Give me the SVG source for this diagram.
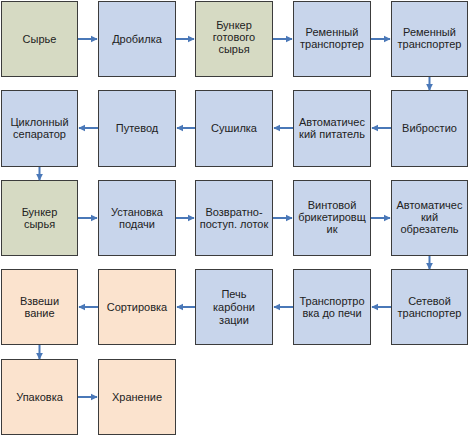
<svg xmlns="http://www.w3.org/2000/svg" width="469" height="436" viewBox="0 0 469 436">
<defs>
<style>
.b{stroke:#3c3c3c;stroke-width:1}
.g{fill:#D6DAC3}
.u{fill:#C8D5EB}
.p{fill:#FBE3CE}
text{font-family:"Liberation Sans",Arial,sans-serif;font-size:11px;fill:#222;text-anchor:middle}
.c line{stroke:#4A78B8;stroke-width:2;marker-end:url(#ah)}
</style>
<marker id="ah" viewBox="0 0 10 10" refX="9" refY="5" markerWidth="3.5" markerHeight="4" orient="auto" markerUnits="strokeWidth">
<path d="M0,0 L10,5 L0,10 Z" fill="#4A78B8"/>
</marker>
</defs>
<rect width="469" height="436" fill="#fff"/>
<g id="n1"><rect class="b g" x="1.5" y="1.5" width="76" height="75"/><text x="39.5" y="43">Сырье</text></g>
<g id="n2"><rect class="b u" x="98.5" y="1.5" width="77" height="75"/><text x="137" y="43">Дробилка</text></g>
<g id="n3"><rect class="b g" x="195.5" y="1.5" width="77" height="75"/><text x="234" y="29">Бункер</text><text x="234" y="41">готового</text><text x="234" y="53">сырья</text></g>
<g id="n4"><rect class="b u" x="293.5" y="1.5" width="77" height="75"/><text x="332" y="36">Ременный</text><text x="332" y="48">транспортер</text></g>
<g id="n5"><rect class="b u" x="391.5" y="1.5" width="76" height="75"/><text x="429.5" y="36">Ременный</text><text x="429.5" y="48">транспортер</text></g>

<g id="n6"><rect class="b u" x="391.5" y="90.5" width="76" height="76"/><text x="429.5" y="132">Вибростио</text></g>
<g id="n7"><rect class="b u" x="293.5" y="90.5" width="77" height="76"/><text x="332" y="126">Автоматичес</text><text x="332" y="138">кий питатель</text></g>
<g id="n8"><rect class="b u" x="195.5" y="90.5" width="77" height="76"/><text x="234" y="132">Сушилка</text></g>
<g id="n9"><rect class="b u" x="98.5" y="90.5" width="77" height="76"/><text x="137" y="132">Путевод</text></g>
<g id="n10"><rect class="b u" x="1.5" y="90.5" width="76" height="76"/><text x="39.5" y="126">Циклонный</text><text x="39.5" y="138">сепаратор</text></g>

<g id="n11"><rect class="b g" x="1.5" y="180.5" width="76" height="75"/><text x="39.5" y="216">Бункер</text><text x="39.5" y="228">сырья</text></g>
<g id="n12"><rect class="b u" x="98.5" y="180.5" width="77" height="75"/><text x="137" y="216">Установка</text><text x="137" y="228">подачи</text></g>
<g id="n13"><rect class="b u" x="195.5" y="180.5" width="77" height="75"/><text x="234" y="216">Возвратно-</text><text x="234" y="228">поступ. лоток</text></g>
<g id="n14"><rect class="b u" x="293.5" y="180.5" width="77" height="75"/><text x="332" y="209">Винтовой</text><text x="332" y="221">брикетировщ</text><text x="332" y="233">ик</text></g>
<g id="n15"><rect class="b u" x="391.5" y="180.5" width="76" height="75"/><text x="429.5" y="209">Автоматичес</text><text x="429.5" y="221">кий</text><text x="429.5" y="233">обрезатель</text></g>

<g id="n16"><rect class="b u" x="391.5" y="269.5" width="76" height="75"/><text x="429.5" y="305">Сетевой</text><text x="429.5" y="317">транспортер</text></g>
<g id="n17"><rect class="b u" x="293.5" y="269.5" width="77" height="75"/><text x="332" y="305">Транспортро</text><text x="332" y="317">вка до печи</text></g>
<g id="n18"><rect class="b u" x="195.5" y="269.5" width="77" height="75"/><text x="234" y="298">Печь</text><text x="234" y="311">карбони</text><text x="234" y="324">зации</text></g>
<g id="n19"><rect class="b p" x="98.5" y="269.5" width="77" height="75"/><text x="137" y="311">Сортировка</text></g>
<g id="n20"><rect class="b p" x="1.5" y="269.5" width="76" height="75"/><text x="39.5" y="305">Взвеши</text><text x="39.5" y="317">вание</text></g>

<g id="n21"><rect class="b p" x="1.5" y="359.5" width="76" height="75"/><text x="39.5" y="401">Упаковка</text></g>
<g id="n22"><rect class="b p" x="98.5" y="359.5" width="77" height="75"/><text x="137" y="401">Хранение</text></g>

<g class="c" id="connectors">
<line x1="78" y1="39" x2="97" y2="39"/>
<line x1="176" y1="39" x2="194" y2="39"/>
<line x1="273" y1="39" x2="292" y2="39"/>
<line x1="371" y1="39" x2="390" y2="39"/>
<line x1="429.5" y1="77" x2="429.5" y2="90"/>
<line x1="391" y1="128" x2="372" y2="128"/>
<line x1="293" y1="128" x2="274" y2="128"/>
<line x1="195" y1="128" x2="177" y2="128"/>
<line x1="98" y1="128" x2="79" y2="128"/>
<line x1="39.5" y1="167" x2="39.5" y2="180"/>
<line x1="78" y1="218" x2="97" y2="218"/>
<line x1="176" y1="218" x2="194" y2="218"/>
<line x1="273" y1="218" x2="292" y2="218"/>
<line x1="371" y1="218" x2="390" y2="218"/>
<line x1="429.5" y1="256" x2="429.5" y2="269"/>
<line x1="391" y1="307" x2="372" y2="307"/>
<line x1="293" y1="307" x2="274" y2="307"/>
<line x1="195" y1="307" x2="177" y2="307"/>
<line x1="98" y1="307" x2="79" y2="307"/>
<line x1="39.5" y1="345" x2="39.5" y2="359"/>
<line x1="78" y1="397" x2="97" y2="397"/>
</g>
</svg>
